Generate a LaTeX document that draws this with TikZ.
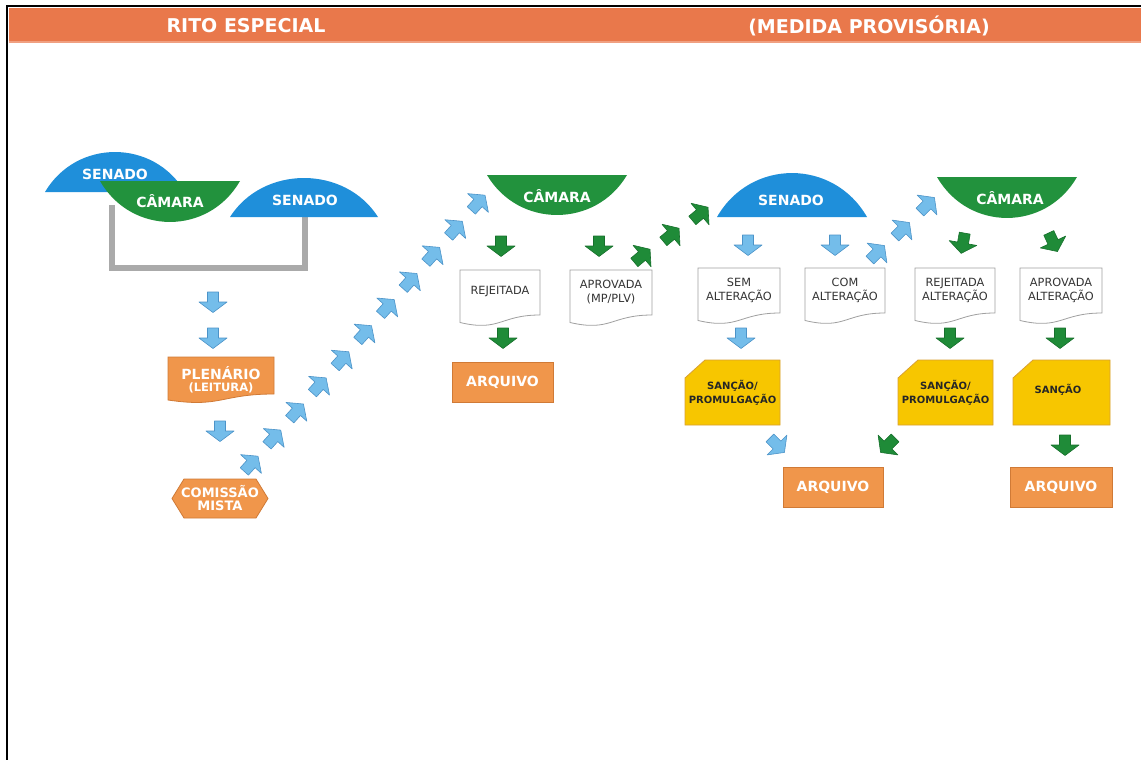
\documentclass[tikz,border=0pt]{standalone}
\usepackage{fontspec}
\setmainfont{DejaVu Sans}
\definecolor{hdr}{HTML}{E9784B}
\definecolor{senblue}{HTML}{1F8FDA}
\definecolor{camgreen}{HTML}{22923D}
\definecolor{orfill}{HTML}{F0964B}
\definecolor{orline}{HTML}{D07A36}
\definecolor{yefill}{HTML}{F7C600}
\definecolor{yeline}{HTML}{D9A032}
\definecolor{lbfill}{HTML}{74BDEA}
\definecolor{lbline}{HTML}{4C93C8}
\definecolor{grfill}{HTML}{1F8B38}
\definecolor{grline}{HTML}{17702C}
\definecolor{docline}{HTML}{A0A0A0}
\definecolor{brack}{HTML}{AAAAAA}
\tikzset{
  segtext/.style={text=white, font=\fontsize{14}{16}\selectfont\bfseries, inner sep=0pt},
  hdrtext/.style={text=white, font=\fontsize{19}{21}\selectfont\bfseries, inner sep=0pt},
  doctext/.style={font=\fontsize{11.3}{14}\selectfont, text=black!80, align=center, inner sep=0pt},
  ortext/.style={text=white, font=\fontsize{14}{15}\selectfont\bfseries, inner sep=0pt, align=center},
  yetext/.style={text=black!85, font=\fontsize{10}{13.5}\selectfont\bfseries, inner sep=0pt, align=center},
  docshape/.style={draw=docline, fill=white, line width=0.8pt},
  orshape/.style={draw=orline, fill=orfill, line width=0.8pt},
  yeshape/.style={draw=yeline, fill=yefill, line width=0.8pt},
  bluearrow/.style={draw=lbline, fill=lbfill, line width=0.6pt, line join=round},
  greenarrow/.style={draw=grline, fill=grfill, line width=0.6pt, line join=round},
}
% name, x, y, angle, style
\newcommand\blockarrow[5]{%
  \coordinate (#1) at (#2,#3);
  \draw[#5, shift={(#2,#3)}, rotate=#4] (-10,-5.5) -- (0,-5.5) -- (0,-14) -- (10.5,0) -- (0,14) -- (0,5.5) -- (-10,5.5) -- cycle;}
% name, xl, xr, ytop, text
\newcommand\docbox[5]{%
  \pgfmathsetmacro\dxm{(#2+#3)/2}%
  \pgfmathsetmacro\dyr{#4+45}%
  \pgfmathsetmacro\dyl{#4+52.5}%
  \pgfmathsetmacro\dyc{#4+62}%
  \draw[docshape] (#2,#4) -- (#3,#4) -- (#3,\dyr) .. controls (\dxm,\dyr) and (\dxm,\dyc) .. (#2,\dyl) -- cycle;
  \node[doctext] (#1) at (\dxm,#4+22) {#5};}
\begin{document}
\begin{tikzpicture}[x=1pt,y=-1pt]
\useasboundingbox (0,0) rectangle (1141,760);
\fill[white] (0,0) rectangle (1141,760);
% frame and header
\draw[black, line width=1.6pt] (7,760) -- (7,6) -- (1141,6);
\fill[hdr] (9,8.5) rectangle (1141,42);
\fill[hdr!70!white] (9,41) rectangle (1141,43);
\node[hdrtext] (h1) at (246,26) {RITO ESPECIAL};
\node[hdrtext] (h2) at (869,26) {(MEDIDA PROVISÓRIA)};

% ---- left group
\fill[senblue] (45,192) .. controls (76.4,138.7) and (153.6,138.7) .. (185,192) -- cycle;
\node[segtext] (sen1) at (115,174) {SENADO};
\draw[brack, line width=5.5pt] (112,205) -- (112,268) -- (305,268) -- (305,210);
\fill[camgreen] (100,181) -- (240,181) .. controls (208.6,235.6) and (131.4,235.6) .. (100,181) -- cycle;
\node[segtext] (cam1) at (170,201) {CÂMARA};
\fill[senblue] (230,217) .. controls (263.2,165) and (344.8,165) .. (378,217) -- cycle;
\node[segtext] (sen2) at (305,200) {SENADO};

\blockarrow{a1}{213}{302}{-90}{bluearrow}
\blockarrow{a2}{213}{338}{-90}{bluearrow}
% plenario
\draw[orshape] (168,357) -- (274,357) -- (274,394) .. controls (221,394) and (221,408) .. (168,400) -- cycle;
\node[ortext] (plen) at (221,373) {PLENÁRIO};
\node[ortext, font=\fontsize{11.5}{12}\selectfont\bfseries] (leit) at (221,388) {(LEITURA)};
\blockarrow{a3}{220}{431}{-90}{bluearrow}
% comissao
\draw[orshape] (172,498.5) -- (184,479) -- (256,479) -- (268,498.5) -- (256,518) -- (184,518) -- cycle;
\node[ortext, font=\fontsize{13}{14}\selectfont\bfseries] (com1) at (220,492) {COMISSÃO};
\node[ortext, font=\fontsize{13}{14}\selectfont\bfseries] (com2) at (220,506) {MISTA};

% diagonal blue arrows
\foreach \i in {0,...,10}{
  \pgfmathsetmacro\ax{251+22.7*\i}
  \pgfmathsetmacro\ay{464-26.1*\i}
  \blockarrow{d\i}{\ax}{\ay}{48}{bluearrow}
}

% ---- camara 2
\fill[camgreen] (487,175) -- (627,175) .. controls (595.6,228.3) and (518.4,228.3) .. (487,175) -- cycle;
\node[segtext] (cam2) at (557,196) {CÂMARA};
\blockarrow{g1}{501}{246}{-90}{greenarrow}
\blockarrow{g3}{599}{246}{-90}{greenarrow}
\docbox{rej}{460}{540}{270}{REJEITADA}
\docbox{apr}{570}{652}{270}{APROVADA\\(MP/PLV)}
\blockarrow{g2}{503}{338}{-90}{greenarrow}
\draw[orshape] (452,362) rectangle (553,402);
\node[ortext] (arq1) at (502.5,382) {ARQUIVO};

\blockarrow{gd1}{642}{256}{40}{greenarrow}
\blockarrow{gd2}{671}{235}{40}{greenarrow}
\blockarrow{gd3}{700}{214}{40}{greenarrow}

% ---- senado 2
\fill[senblue] (717,217) .. controls (750.6,158.4) and (833.4,158.4) .. (867,217) -- cycle;
\node[segtext] (sen3) at (791,200) {SENADO};
\blockarrow{b1}{748}{245}{-90}{bluearrow}
\blockarrow{b2}{835}{245}{-90}{bluearrow}
\docbox{sem}{698}{780}{268}{SEM\\ALTERAÇÃO}
\docbox{comalt}{805}{885}{268}{COM\\ALTERAÇÃO}
\blockarrow{b3}{741}{338}{-90}{bluearrow}

\blockarrow{bd1}{877}{253}{45}{bluearrow}
\blockarrow{bd2}{902}{230}{45}{bluearrow}
\blockarrow{bd3}{927}{205}{45}{bluearrow}

% ---- camara 3
\fill[camgreen] (937,177) -- (1077,177) .. controls (1045.6,231.6) and (968.4,231.6) .. (937,177) -- cycle;
\node[segtext] (cam3) at (1010,198) {CÂMARA};
\blockarrow{g4}{963}{243}{-100}{greenarrow}
\blockarrow{g5}{1053}{242}{-65}{greenarrow}
\docbox{rejalt}{915}{995}{268}{REJEITADA\\ALTERAÇÃO}
\docbox{apralt}{1020}{1102}{268}{APROVADA\\ALTERAÇÃO}
\blockarrow{g6}{950}{338}{-90}{greenarrow}
\blockarrow{g7}{1060}{338}{-90}{greenarrow}

% sancao boxes
\draw[yeshape] (705,360) -- (780,360) -- (780,425) -- (685,425) -- (685,378) -- cycle;
\node[yetext] (san1) at (732.5,393) {SANÇÃO/\\PROMULGAÇÃO};
\draw[yeshape] (918,360) -- (993,360) -- (993,425) -- (898,425) -- (898,378) -- cycle;
\node[yetext] (san2) at (945.5,393) {SANÇÃO/\\PROMULGAÇÃO};
\draw[yeshape] (1033,360) -- (1110,360) -- (1110,425) -- (1013,425) -- (1013,378) -- cycle;
\node[yetext] (san3) at (1058,390) {SANÇÃO};

\blockarrow{e1}{777}{445}{-45}{bluearrow}
\blockarrow{e2}{888}{445}{-135}{greenarrow}
\blockarrow{e3}{1065}{445}{-90}{greenarrow}

\draw[orshape] (783,467) rectangle (883,507);
\node[ortext] (arq2) at (833,487) {ARQUIVO};
\draw[orshape] (1010,467) rectangle (1112,507);
\node[ortext] (arq3) at (1061,487) {ARQUIVO};
\end{tikzpicture}
\end{document}
